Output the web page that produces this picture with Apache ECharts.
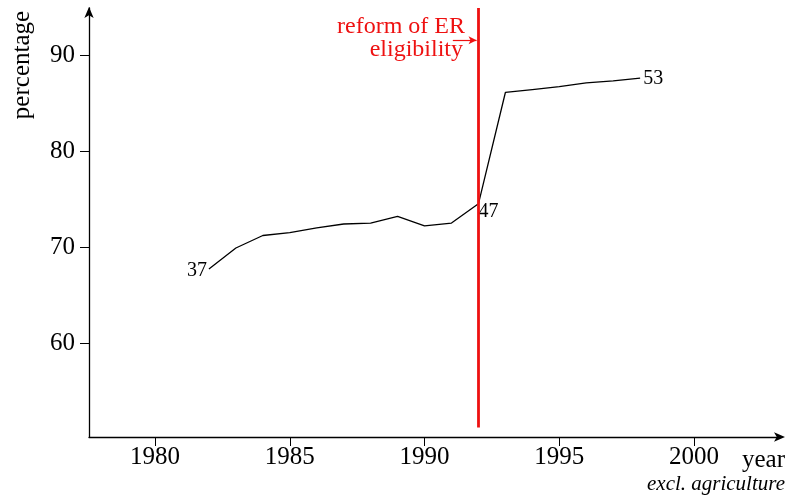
<!doctype html>
<html lang="en">
<head>
    <meta charset="UTF-8">
    <title>percentage by year</title>
    <script src="https://cdn.jsdelivr.net/npm/echarts@6/dist/echarts.min.js"></script>
    <style>
        html, body { margin: 0; padding: 0; background: #fff; }
        #mainChart { width: 791px; height: 502px; }
    </style>
</head>
<body>
<div id="mainChart"></div>
<script>
    // data
    const years = [1982, 1983, 1984, 1985, 1986, 1987, 1988, 1989, 1990, 1991, 1992, 1993, 1994, 1995, 1996, 1997, 1998];
    const values = [67.7, 69.9, 71.2, 71.5, 72.0, 72.4, 72.5, 73.2, 72.2, 72.5, 74.5, 86.1, 86.4, 86.7, 87.1, 87.3, 87.6];
    const pointLabels = { 1982: '37', 1992: '47', 1998: '53' };
    const xTicks = [1980, 1985, 1990, 1995, 2000];
    const yTicks = [60, 70, 80, 90];
    const reformYear = 1992;

    const serif = 'Liberation Serif';
    const red = '#ee1111';

    let myChart = echarts.init(document.getElementById('mainChart'));

    // label placement for the three annotated points
    const labelPos = {
        '37': { position: 'left', distance: 2, offset: [0, 2] },
        '47': { position: 'right', distance: 0, offset: [0, 8] },
        '53': { position: 'right', distance: 3, offset: [0, 1] }
    };

    let lineData = years.map(function (y, i) {
        let item = { value: [y, values[i]] };
        let txt = pointLabels[y];
        if (txt) {
            item.label = {
                show: true,
                formatter: txt,
                position: labelPos[txt].position,
                distance: labelPos[txt].distance,
                offset: labelPos[txt].offset,
                color: '#000',
                fontFamily: serif,
                fontSize: 20
            };
        }
        return item;
    });

    let option = {
        animation: false,
        backgroundColor: '#fff',
        grid: { left: 89, right: 11, top: 8, bottom: 65 },
        xAxis: {
            type: 'value',
            min: 1977.55,
            max: 2003.19,
            splitLine: { show: false },
            axisLine: {
                show: true,
                symbol: ['none', 'arrow'],
                symbolSize: [7, 11],
                symbolOffset: [0, 5],
                lineStyle: { color: '#000', width: 1.3 }
            },
            axisTick: {
                show: true,
                length: 9,
                customValues: xTicks,
                lineStyle: { color: '#000', width: 1 }
            },
            axisLabel: {
                customValues: xTicks,
                formatter: function (v) { return String(v); },
                margin: 8,
                color: '#000',
                fontFamily: serif,
                fontSize: 25
            }
        },
        yAxis: {
            type: 'value',
            min: 50.21,
            max: 94.9,
            splitLine: { show: false },
            axisLine: {
                show: true,
                symbol: ['none', 'arrow'],
                symbolSize: [7, 11],
                symbolOffset: [0, 1],
                lineStyle: { color: '#000', width: 1.3 }
            },
            axisTick: {
                show: true,
                length: 9,
                customValues: yTicks,
                lineStyle: { color: '#000', width: 1 }
            },
            axisLabel: {
                customValues: yTicks,
                margin: 14,
                color: '#000',
                fontFamily: serif,
                fontSize: 25
            }
        },
        series: [{
            type: 'line',
            data: lineData,
            symbol: 'circle',
            symbolSize: 0.01,
            showSymbol: true,
            itemStyle: { color: '#000' },
            lineStyle: { color: '#000', width: 1.3 },
            markLine: {
                silent: true,
                symbol: ['none', 'none'],
                label: { show: false },
                data: [
                    [{ coord: [reformYear, 51.2], lineStyle: { color: red, width: 2.8, type: 'solid' } },
                     { coord: [reformYear, 94.9] }],
                    [{ coord: [1991.05, 91.55], symbol: 'none', lineStyle: { color: red, width: 1.2, type: 'solid' } },
                     { coord: [1991.93, 91.55], symbol: 'arrow', symbolSize: [6, 8] }]
                ]
            }
        }],
        graphic: [
            {
                type: 'text', x: 22, y: 65, rotation: Math.PI / 2,
                style: { text: 'percentage', fill: '#000', font: '25px "Liberation Serif"', align: 'center', verticalAlign: 'middle' }
            },
            {
                type: 'text', right: 6, top: 448,
                style: { text: 'year', fill: '#000', font: '25px "Liberation Serif"' }
            },
            {
                type: 'text', right: 6, top: 474,
                style: { text: 'excl. agriculture', fill: '#000', font: 'italic 21px "Liberation Serif"' }
            },
            {
                type: 'text', right: 326, top: 15,
                style: { text: 'reform of ER', fill: red, font: '24px "Liberation Serif"' }
            },
            {
                type: 'text', right: 328, top: 38,
                style: { text: 'eligibility', fill: red, font: '24px "Liberation Serif"' }
            }
        ]
    };

    option && myChart.setOption(option);
</script>
</body>
</html>
